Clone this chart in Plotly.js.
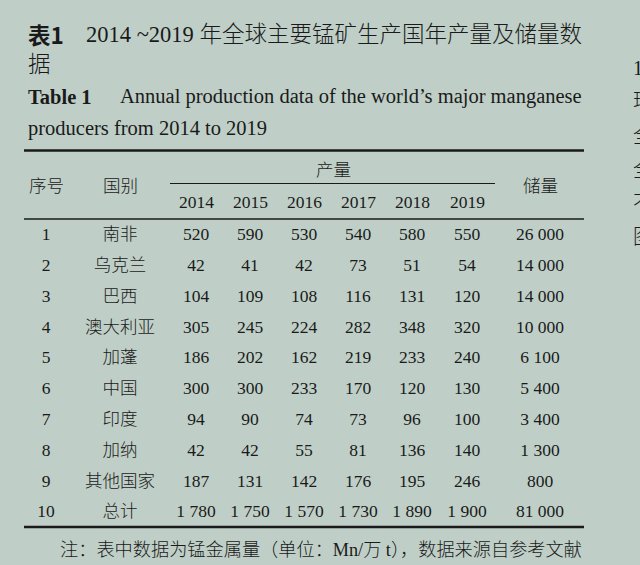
<!DOCTYPE html>
<html>
<head>
<meta charset="utf-8">
<script src="https://cdn.plot.ly/plotly-3.0.1.min.js"></script>
<style>
  html, body { margin: 0; padding: 0; background: #bfcfc7; }
  #chart { width: 640px; height: 565px; }
</style>
</head>
<body>
<div id="chart"></div>
<script>
// ---- data ----
const seqNo = [1, 2, 3, 4, 5, 6, 7, 8, 9, 10];
const countries = ['南非', '乌克兰', '巴西', '澳大利亚', '加蓬', '中国', '印度', '加纳', '其他国家', '总计'];
const years = ['2014', '2015', '2016', '2017', '2018', '2019'];
const p2014 = [520, 42, 104, 305, 186, 300, 94, 42, 187, 1780];
const p2015 = [590, 41, 109, 245, 202, 300, 90, 42, 131, 1750];
const p2016 = [530, 42, 108, 224, 162, 233, 74, 55, 142, 1570];
const p2017 = [540, 73, 116, 282, 219, 170, 73, 81, 176, 1730];
const p2018 = [580, 51, 131, 348, 233, 120, 96, 136, 195, 1890];
const p2019 = [550, 54, 120, 320, 240, 130, 100, 140, 246, 1900];
const reserves = [26000, 14000, 14000, 10000, 6100, 5400, 3400, 1300, 800, 81000];
const headSeq = '序号';
const headCountry = '国别';
const headProd = '产量';
const headReserve = '储量';
const titleCnLead = '表1';
const titleCn = '2014 ~2019 年全球主要锰矿生产国年产量及储量数';
const titleCn2 = '据';
const titleEnLead = 'Table 1';
const titleEn = 'Annual production data of the world’s major manganese';
const titleEn2 = 'producers from 2014 to 2019';
const note = '注：表中数据为锰金属量（单位：Mn/万 t），数据来源自参考文献';
const sideChars = ['1', '玛', '全', '全', '不', '图'];

// ---- styling / layout ----
const W = 640, H = 565;
const BG = '#bfcfc7';
const INK = '#1a1a1a';
const FONT = '"Liberation Serif", "Noto Sans CJK SC Light", "Noto Sans CJK SC DemiLight", "Noto Sans CJK SC", serif';
const CJKB = '"Noto Sans CJK SC", sans-serif';
const colX = [46, 120, 196, 250, 304, 358, 412, 467, 540];
const fmt = n => String(n).replace(/\B(?=(\d{3})+(?!\d))/g, ' ');
const px = x => x / W;
const py = y => 1 - y / H;

const bodyFont = { family: FONT, size: 17.5, color: INK };
const columns = [seqNo.map(String), countries,
  p2014.map(fmt), p2015.map(fmt), p2016.map(fmt), p2017.map(fmt), p2018.map(fmt), p2019.map(fmt),
  reserves.map(fmt)];

const traces = columns.map((col, j) => ({
  type: 'scatter', mode: 'text',
  x: col.map(() => colX[j]), y: seqNo,
  text: col, textposition: 'middle center',
  textfont: bodyFont, hoverinfo: 'skip', showlegend: false, cliponaxis: false
}));

function ann(text, x, y, opts) {
  return Object.assign({
    text: text, xref: 'paper', yref: 'paper', x: px(x), y: py(y),
    xanchor: 'center', yanchor: 'middle', showarrow: false,
    font: { family: FONT, size: 17.5, color: INK }
  }, opts || {});
}

const annotations = [
  ann(titleCnLead, 26, 34, { xanchor: 'left', font: { family: CJKB, size: 22.5, color: INK, weight: 'bold' } }),
  ann(titleCn, 84, 34, { xanchor: 'left', font: { family: FONT, size: 22.5, color: INK } }),
  ann(titleCn2, 26, 65, { xanchor: 'left', font: { family: FONT, size: 22.5, color: INK } }),
  ann(titleEnLead, 26, 97, { xanchor: 'left', font: { family: FONT, size: 20.5, color: INK, weight: 'bold' } }),
  ann(titleEn, 584, 97, { xanchor: 'right', font: { family: FONT, size: 20.5, color: INK } }),
  ann(titleEn2, 26, 129, { xanchor: 'left', font: { family: FONT, size: 20.5, color: INK } }),
  ann(headProd, 333, 170),
  ann(headSeq, colX[0], 186),
  ann(headCountry, colX[1], 186),
  ann(headReserve, colX[8], 186),
  ann(note, 584, 550, { xanchor: 'right', font: { family: FONT, size: 18.2, color: INK } })
];
years.forEach((yr, i) => annotations.push(ann(yr, colX[2 + i], 202)));
const sideY = [68, 101, 136, 170, 203, 237];
sideChars.forEach((c, i) => annotations.push(ann(c, 631, sideY[i], { xanchor: 'left', font: { family: FONT, size: 20, color: INK } })));

function hline(x0, x1, y, w) {
  return { type: 'line', xref: 'paper', yref: 'paper', x0: px(x0), x1: px(x1), y0: py(y), y1: py(y),
    line: { color: INK, width: w } };
}
const shapes = [
  hline(24, 584, 150.5, 2.6),
  hline(170, 495, 183.5, 1.1),
  hline(24, 584, 219, 1.4),
  hline(24, 584, 527, 2.6)
];

// y axis in row units: row 1 at 236 px, row 10 at 513 px
const unit = (513 - 236) / 9;
const yTop = 1 - 236 / unit;
const yBot = 1 + (H - 236) / unit;

const layout = {
  width: W, height: H,
  margin: { l: 0, r: 0, t: 0, b: 0, pad: 0 },
  paper_bgcolor: BG, plot_bgcolor: BG,
  showlegend: false,
  xaxis: { range: [0, W], visible: false, fixedrange: true },
  yaxis: { range: [yBot, yTop], visible: false, fixedrange: true },
  annotations: annotations,
  shapes: shapes
};

Plotly.newPlot('chart', traces, layout, { staticPlot: true, displayModeBar: false });
</script>
</body>
</html>
